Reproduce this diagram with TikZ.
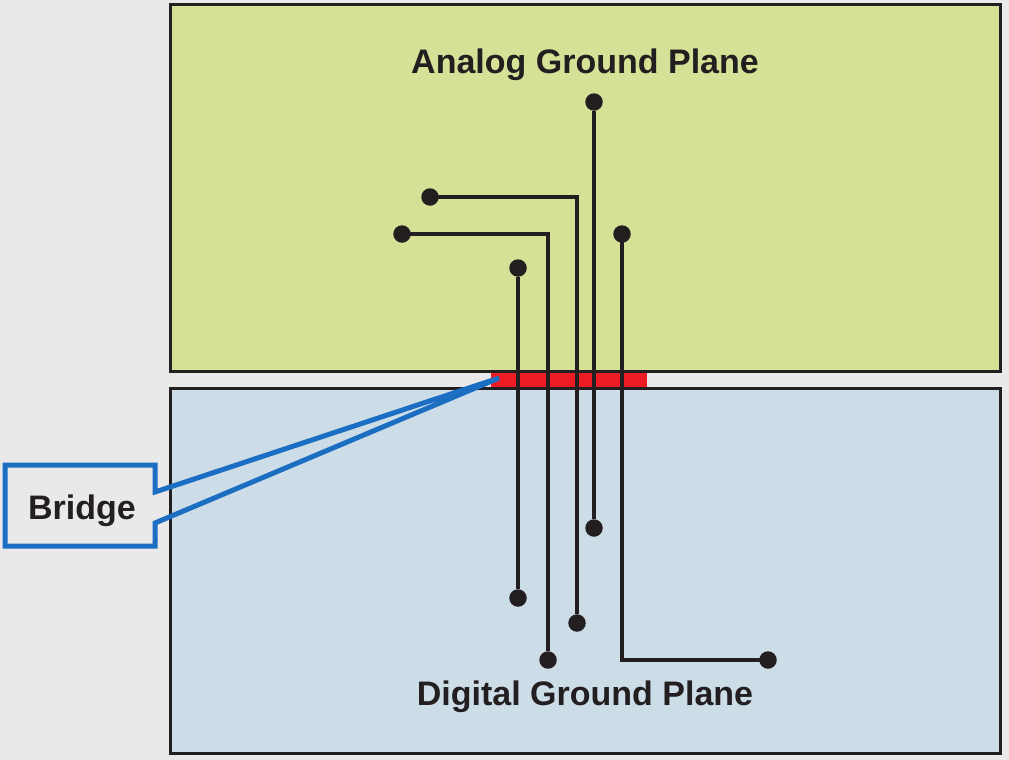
\documentclass[tikz,border=0pt]{standalone}
\usepackage{fontspec}
\setmainfont{Liberation Sans}
\usetikzlibrary{positioning}
\definecolor{bggray}{HTML}{E9E9E9}
\definecolor{ink}{HTML}{231F20}
\definecolor{agreen}{HTML}{D5E196}
\definecolor{dblue}{HTML}{CDDDE8}
\definecolor{bridgered}{HTML}{ED1C24}
\definecolor{callblue}{HTML}{1B6EC2}

\begin{document}
\begin{tikzpicture}[x=1pt, y=-1pt,
  plane/.style={draw=ink, line width=3pt},
  trace/.style={ink, line width=4.5pt},
  pad/.style={circle, fill=ink, inner sep=0pt, minimum size=17.5pt},
  title/.style={font=\fontsize{34}{40}\selectfont\bfseries, text=ink, anchor=base}]
  \fill[bggray] (0,0) rectangle (1009,760);
  \useasboundingbox (0,0) rectangle (1009,760);
  % the two planes and the bridge between them
  \filldraw[plane, fill=agreen] (170,5) rectangle (1000,371);
  \filldraw[plane, fill=dblue] (170,388) rectangle (1000,753);
  \fill[bridgered] (491,372.5) rectangle (647,386.5);
  \node[title] (analog) at (585,74) {Analog Ground Plane};
  \node[title] (digital) at (585,705) {Digital Ground Plane};
  % pads
  \node[pad] (a1) at (518,268) {};
  \node[pad] (a2) at (402,234) {};
  \node[pad] (a3) at (430,197) {};
  \node[pad] (a4) at (594,102) {};
  \node[pad] (a5) at (622,234) {};
  \node[pad] (d1) at (518,598) {};
  \node[pad] (d2) at (548,660) {};
  \node[pad] (d3) at (577,623) {};
  \node[pad] (d4) at (594,528) {};
  \node[pad] (d5) at (768,660) {};
  % traces across the bridge
  \draw[trace] (a1) -- (d1);
  \draw[trace] (a2.center) -| (d2);
  \draw[trace] (a3.center) -| (d3);
  \draw[trace] (a4) -- (d4);
  \draw[trace] (a5.center) |- (d5.center);
  % callout
  \node[title] (bridge) at (82,519) {Bridge};
  \coordinate (tip) at (499,378);
  \draw[callblue, line width=5pt, line join=miter]
    (5,465) -- (155,465) -- (155,492) -- (tip) -- (155,523) -- (155,546) -- (5,546) -- cycle;
\end{tikzpicture}
\end{document}
